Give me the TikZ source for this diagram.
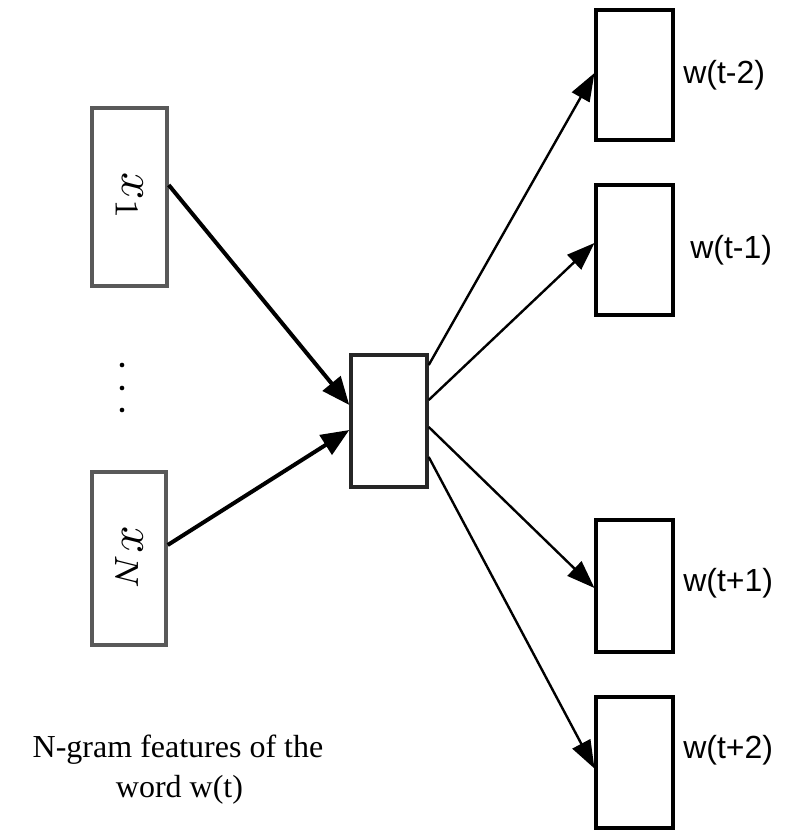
\documentclass[tikz,border=0pt]{standalone}
\usepackage{fontspec}
\setmainfont{Liberation Serif}
\newfontfamily\labelfont{Liberation Sans}
\usetikzlibrary{calc,arrows.meta}

\tikzset{
  inbox/.style={draw=black!65, line width=2.6pt, fill=white, inner sep=0pt},
  hidbox/.style={draw=black!85, line width=2.6pt, fill=white, inner sep=0pt},
  outbox/.style={draw=black, line width=2.3pt, fill=white, inner sep=0pt},
  inarrow/.style={line width=3pt, -{Triangle[length=21pt,width=17pt]}},
  outarrow/.style={line width=1.8pt, -{Triangle[length=21pt,width=15pt]}},
  wlabel/.style={anchor=west, font=\labelfont\fontsize{24}{28}\selectfont, inner sep=0pt},
  dotmark/.style={circle, fill=black, inner sep=0pt, minimum size=3.5pt},
  captext/.style={anchor=base, inner sep=0pt, font=\fontsize{24}{30}\selectfont},
}

\begin{document}
\begin{tikzpicture}[x=0.75pt, y=-0.75pt]
  \useasboundingbox (0,0) rectangle (810,831);

  % input feature boxes
  \node[inbox, minimum width=75*0.75pt, minimum height=178*0.75pt] (x1) at (129.5,197) {};
  \node[inbox, minimum width=74*0.75pt, minimum height=173*0.75pt] (xN) at (129,558.5) {};
  \node[rotate=-90, scale=3.6] (x1t) at (x1.center) {$x_1$};
  \node[rotate=-90, scale=3.6] (xNt) at (xN.center) {$x_N$};

  % vertical ellipsis
  \node[dotmark] (d1) at (122,365) {};
  \node[dotmark] (d2) at (122,388) {};
  \node[dotmark] (d3) at (122,410) {};

  % hidden layer
  \node[hidbox, minimum width=76*0.75pt, minimum height=132*0.75pt] (mid) at (389,421) {};

  % output word boxes
  \node[outbox, minimum width=77*0.75pt, minimum height=130*0.75pt] (o1) at (634.5,75) {};
  \node[outbox, minimum width=77*0.75pt, minimum height=130*0.75pt] (o2) at (634.5,250) {};
  \node[outbox, minimum width=77*0.75pt, minimum height=132*0.75pt] (o3) at (634.5,586) {};
  \node[outbox, minimum width=77*0.75pt, minimum height=131*0.75pt] (o4) at (634.5,762.5) {};

  \node[wlabel] (l1) at (683,75) {w(t-2)};
  \node[wlabel] (l2) at (690,250) {w(t-1)};
  \node[wlabel] (l3) at (683,583) {w(t+1)};
  \node[wlabel] (l4) at (683,750) {w(t+2)};

  % connectors
  \draw[inarrow] ($(x1.east)+(0,-12)$) -- ($(mid.west)+(0,-16)$);
  \draw[inarrow] ($(xN.east)+(0,-13.5)$) -- ($(mid.west)+(0,9)$);

  \draw[outarrow] ($(mid.east)+(0,-56)$) -- ($(o1.west)+(0,-2)$);
  \draw[outarrow] ($(mid.east)+(0,-21)$) -- ($(o2.west)+(0,-7)$);
  \draw[outarrow] ($(mid.east)+(0,6)$) -- ($(o3.west)+(0,2)$);
  \draw[outarrow] ($(mid.east)+(0,36)$) -- ($(o4.west)+(0,6)$);

  % caption
  \node[captext] (cap1) at (178,757) {N-gram features of the};
  \node[captext] (cap2) at (179.5,797) {word w(t)};
\end{tikzpicture}
\end{document}
